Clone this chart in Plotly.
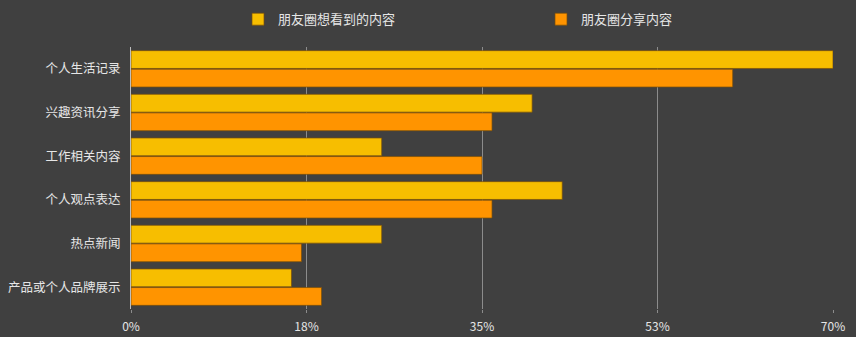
import plotly.graph_objects as go

# Content categories (top to bottom)
categories = ["个人生活记录", "兴趣资讯分享", "工作相关内容", "个人观点表达", "热点新闻", "产品或个人品牌展示"]

# Share of respondents, in percent
want_to_see = [70, 40, 25, 43, 25, 16]
share_content = [60, 36, 35, 36, 17, 19]

series_names = ["朋友圈想看到的内容", "朋友圈分享内容"]

# X-axis ticks
tick_values = [0, 17.5, 35, 52.5, 70]
tick_labels = ["0%", "18%", "35%", "53%", "70%"]

BG = "#404040"
YELLOW = "#f7be00"
ORANGE = "#ff9400"
OUTLINE = "rgba(120,78,10,0.7)"
FONT = "Noto Sans CJK SC"

fig = go.Figure()
fig.add_trace(go.Bar(
    y=categories, x=want_to_see, name=series_names[0], orientation="h",
    marker=dict(color=YELLOW, line=dict(color=OUTLINE, width=1)),
    legend="legend", showlegend=True,
))
fig.add_trace(go.Bar(
    y=categories, x=share_content, name=series_names[1], orientation="h",
    marker=dict(color=ORANGE, line=dict(color=OUTLINE, width=1)),
    legend="legend2", showlegend=True,
))

legend_style = dict(
    orientation="h", yref="container", yanchor="middle", y=0.943,
    xref="container", xanchor="left",
    bgcolor="rgba(0,0,0,0)", font=dict(family=FONT, size=13, color="#e6e6e6"),
    itemwidth=30, visible=True,
)

fig.update_layout(
    width=856, height=337,
    margin=dict(l=131, r=23, t=47, b=28, autoexpand=False),
    paper_bgcolor=BG, plot_bgcolor=BG,
    showlegend=True,
    barmode="group", bargap=0.15, bargroupgap=0.04,
    font=dict(family=FONT, color="#e6e6e6"),
    legend=dict(legend_style, x=238 / 856),
    legend2=dict(legend_style, x=541 / 856),
    xaxis=dict(
        range=[0, 70], tickvals=tick_values, ticktext=tick_labels,
        showgrid=True, gridcolor="#8c8c8c", gridwidth=1,
        zeroline=False, showline=False,
        tickfont=dict(family=FONT, size=12, color="#e6e6e6"),
        ticks="outside", ticklen=3, tickcolor="#8c8c8c",
        ticklabelstandoff=4,
    ),
    yaxis=dict(
        autorange="reversed", showgrid=False, zeroline=False,
        showline=True, linecolor="#bdbdbd", linewidth=1,
        tickfont=dict(family=FONT, size=12.5, color="#e6e6e6"),
        ticks="", ticklabelstandoff=7,
    ),
)

fig.write_html("out.html")
